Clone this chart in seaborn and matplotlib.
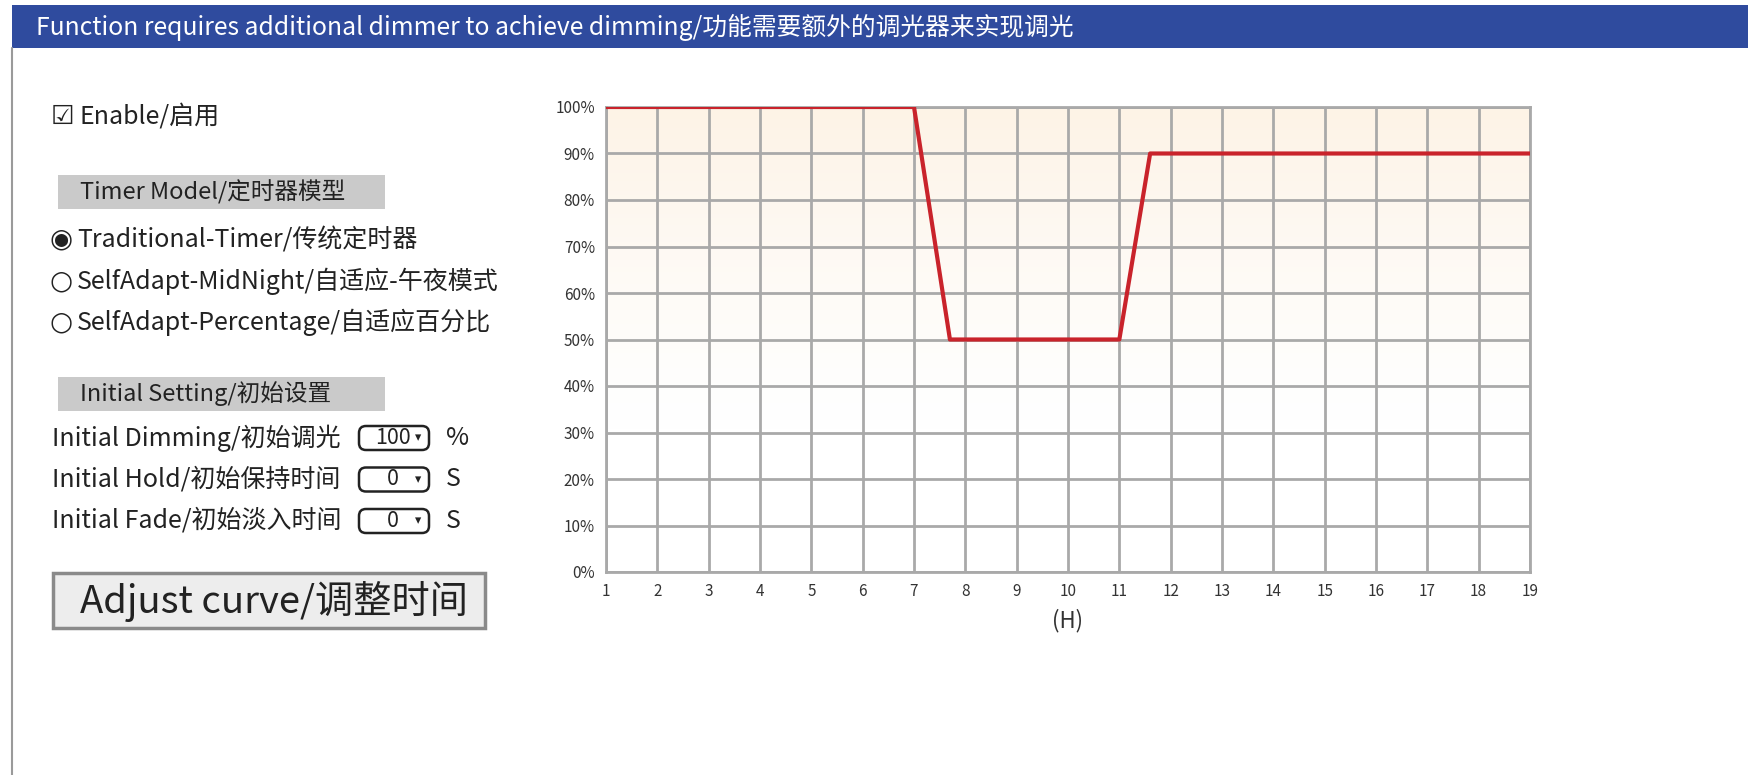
import numpy as np
import seaborn as sns
import matplotlib.pyplot as plt
from matplotlib.patches import Rectangle, FancyBboxPatch
from matplotlib.colors import LinearSegmentedColormap

# dimming curve (hour -> %)
hours = [1, 7, 7.7, 11, 11.6, 19]
dimming = [100, 100, 50, 50, 90, 90]
x_ticks = list(range(1, 20))
y_ticks = list(range(0, 101, 10))

header = "Function requires additional dimmer to achieve dimming/功能需要额外的调光器来实现调光"
enable_label = "☑ Enable/启用"
timer_title = "Timer Model/定时器模型"
timer_options = ["Traditional-Timer/传统定时器",
                 "SelfAdapt-MidNight/自适应-午夜模式",
                 "SelfAdapt-Percentage/自适应百分比"]
timer_selected = 0
init_title = "Initial Setting/初始设置"
init_labels = ["Initial Dimming/初始调光", "Initial Hold/初始保持时间", "Initial Fade/初始淡入时间"]
init_values = ["100", "0", "0"]
init_units = ["%", "S", "S"]
button_label = "Adjust curve/调整时间"

sns.set_theme(style="white")
plt.rcParams['font.family'] = ['Noto Sans CJK SC', 'DejaVu Sans']

W, H = 1749, 775
fig = plt.figure(figsize=(W / 100, H / 100), dpi=100)
fig.patch.set_facecolor("white")

def fx(px):
    return px / W

def fy(py):
    return 1 - py / H

# header band
fig.patches.append(Rectangle((fx(12), fy(48)), fx(W - 12), 43 / H, transform=fig.transFigure,
                             fc="#2F4B9E", ec="none", zorder=0))
fig.text(fx(36), fy(27), header, color="white", fontsize=17.8, va="center", ha="left")
fig.lines.append(plt.Line2D([fx(12), fx(12)], [fy(48), 0], transform=fig.transFigure,
                            color="#9a9a9a", lw=1.5))

# left panel
txt = "#222222"
fig.text(fx(51), fy(117), enable_label[0], fontsize=19, color=txt, va="center", family="DejaVu Sans")
fig.text(fx(80), fy(117), enable_label[2:], fontsize=18, color=txt, va="center")

for title, ty in [(timer_title, 192), (init_title, 394)]:
    fig.patches.append(Rectangle((fx(58), fy(ty + 17)), fx(327), 34 / H, transform=fig.transFigure,
                                 fc="#CACACA", ec="none"))
    fig.text(fx(80), fy(ty), title, fontsize=17, color=txt, va="center")

for i, opt in enumerate(timer_options):
    mark = "◉" if i == timer_selected else "○"
    fig.text(fx(50), fy(240 + i * 41), mark, fontsize=19, color=txt, va="center", family="DejaVu Sans")
    fig.text(fx(77), fy(240 + i * 41), opt, fontsize=18, color=txt, va="center")

for i, (lab, val, unit) in enumerate(zip(init_labels, init_values, init_units)):
    yy = 438 + i * 41.5
    fig.text(fx(52), fy(yy), lab, fontsize=18, color=txt, va="center")
    fig.patches.append(FancyBboxPatch((fx(359), fy(yy + 12)), fx(70), 24 / H, transform=fig.transFigure,
                                      boxstyle="round,pad=0,rounding_size=0.004", mutation_aspect=W / H,
                                      fc="white", ec="#222222", lw=1.8))
    fig.text(fx(393), fy(yy), val, fontsize=15.5, color=txt, va="center", ha="center")
    fig.text(fx(418), fy(yy), "▾", fontsize=9, color=txt, va="center", ha="center", family="DejaVu Sans")
    fig.text(fx(446), fy(yy), unit, fontsize=18, color=txt, va="center")

fig.patches.append(Rectangle((fx(53), fy(628)), fx(432), 55 / H, transform=fig.transFigure,
                             fc="#EDEDED", ec="#8a8a8a", lw=2.5))
fig.text(fx(80), fy(601), button_label, fontsize=27.5, color=txt, va="center")

# chart
ax = fig.add_axes([fx(606), fy(572), fx(1530 - 606), (572 - 107) / H])
cmap = LinearSegmentedColormap.from_list("bg", ["white", "#FDF3E6"])
grad = np.clip((np.linspace(0, 1, 200).reshape(-1, 1) - 0.3) / 0.7, 0, 1) ** 1.3
ax.imshow(grad, extent=[1, 19, 0, 100], origin="lower", aspect="auto", cmap=cmap, zorder=0)

sns.lineplot(x=hours, y=dimming, ax=ax, color="#C9232B", lw=3, zorder=3)

ax.set_xlim(1, 19)
ax.set_ylim(0, 100)
ax.set_xticks(x_ticks)
ax.set_yticks(y_ticks)
ax.set_yticklabels([f"{v}%" for v in y_ticks])
ax.grid(True, color="#A9A9A9", lw=2, zorder=1)
ax.set_axisbelow(True)
for s in ax.spines.values():
    s.set_color("#A9A9A9")
    s.set_linewidth(2)
ax.tick_params(axis="both", labelsize=11, colors="#333333", length=0, pad=8)
ax.set_xlabel("(H)", fontsize=16, color="#333333", labelpad=6)

fig.savefig("out.png", dpi=100)
